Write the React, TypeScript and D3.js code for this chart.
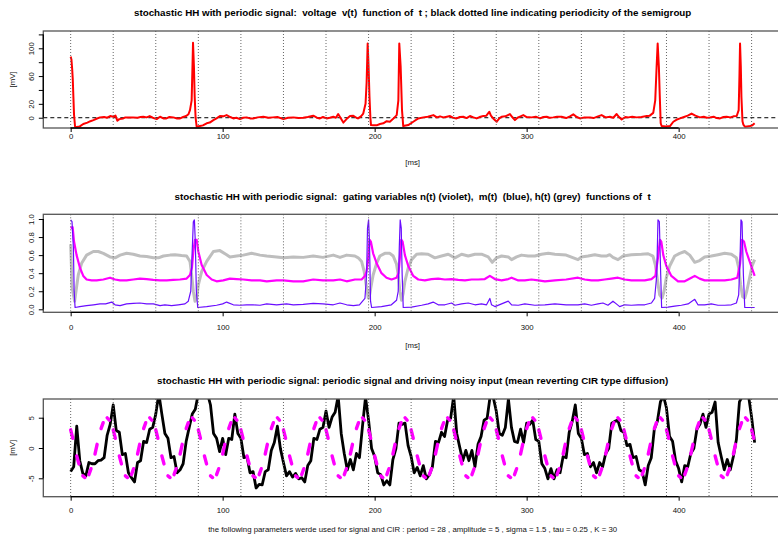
import React, { useEffect, useRef } from 'react'
import * as d3 from 'd3'

type Pt = [number, number]

const FONT = "'Liberation Sans', Arial, Helvetica, sans-serif"

// time axis [ms]
const xTicks = [0, 100, 200, 300, 400]
// periodicity of the semigroup (period = 28 ms)
const periodMarks = [0, 28, 56, 84, 112, 140, 168, 196, 224, 252, 280, 308, 336, 364, 392, 420, 448]

const titles = [
  'stochastic HH with periodic signal:  voltage  v(t)  function of  t ; black dotted line indicating periodicity of the semigroup',
  'stochastic HH with periodic signal:  gating variables n(t) (violet),  m(t)  (blue), h(t) (grey)  functions of  t',
  'stochastic HH with periodic signal: periodic signal and driving noisy input (mean reverting CIR type diffusion)',
]
const footer = 'the following parameters werde used for signal and CIR : period = 28 , amplitude = 5 , sigma = 1.5 , tau = 0.25 , K = 30'

const voltTicks = [0, 20, 40, 60, 80, 100, 120]
const voltTickLabels = ['0', '20', '', '60', '', '100', '']
const gateTicks = [0, 0.2, 0.4, 0.6, 0.8, 1.0]
const gateTickLabels = ['0.0', '0.2', '0.4', '0.6', '0.8', '1.0']
const inputTicks = [-5, 0, 5]
const inputTickLabels = ['-5', '0', '5']

// voltage v(t) [mV]
const voltage: Pt[] = [
  [0, 88], [0.5, 84], [1, 70], [1.4, 55], [1.8, 30], [2.2, 5], [2.9, -13], [4, -13.5], [6, -12.5], [8.3, -9],
  [11, -7], [13, -5], [15, -3.4], [17, -1.5], [19.3, 0.5], [22, 1], [24, 0], [26, 2.4], [28, 1.4], [29.5, 3],
  [30.7, -4.3], [32, -2], [34.6, -1], [36, 0.5], [38, 0.5], [41, 0.5], [44, 0], [46, 1], [47.8, 1.4], [50, 0.5],
  [52, 2.4], [54, 0], [56.6, -2], [58.8, 1.4], [61, -1], [63, -1], [65, 1], [67.5, 0.5], [70, -1], [72, -1],
  [74, 1], [76, 2.4], [77.5, 5], [78.5, 11], [79.6, 25], [80.1, 70], [80.5, 108], [81.1, 74], [81.6, 30], [82.2, 0],
  [82.9, -13], [85, -12], [87, -11], [89.5, -8], [91.5, -7], [93.9, -3.4], [96, -1], [98.2, 2.4], [100.5, 2], [102.6, 3.8],
  [105, 1], [107, -1], [109, 0], [111.4, -2], [113.5, 0], [115.8, 0.5], [118, -1], [120, -1], [123, 0.5], [126.8, 1.4],
  [130, 0], [133, 0.5], [136, 1], [140, -2], [143, 0], [146.5, 0.5], [150, -0.5], [153, 0], [156, 1], [159.6, 2.9],
  [162, 0], [164, -1], [166, 1], [168.4, -1], [170.5, 0], [172.8, 1.4], [174.5, 0], [176, 5.3], [177.5, 0], [179.4, -7],
  [181.5, -2], [183.8, 2.4], [186, 2.9], [188, 0], [189, -1], [191, 2], [192.5, 6], [194, 20], [194.7, 50], [195.4, 107],
  [196, 74], [196.6, 30], [197.2, 0], [197.6, -10.6], [199, -11], [201.3, -11], [203.5, -9], [205.7, -8], [207.9, -5], [210, -5.8],
  [212, -2], [214.5, 3.8], [215.6, 25], [216.2, 107], [217.1, 74], [218, 11], [218.8, -12], [222.1, -10.6], [225.4, -5.8], [228.7, -1],
  [232, 0.5], [235, 1.5], [238.6, 3.8], [241, 0.5], [243, 2], [245.2, 0.5], [247.5, 1.5], [249.6, 2.4], [251.5, 0], [253.9, -1],
  [256, 1], [258.3, 1.4], [260.5, -0.5], [262.7, 2.4], [265, 0.5], [267.1, -1], [269, 1], [271.5, 2.4], [273.5, 3], [275.4, 8.6],
  [276.5, 3], [278, -1], [280.3, -5.8], [282, -1], [283.5, 1.4], [286, 2], [289, 5.3], [290.5, 1], [292.3, -3.4], [294, 0],
  [296, 2], [297.8, 3.8], [300, 1], [303.3, 0.5], [306, 1.5], [308.8, -1], [311, 1], [313.2, 1.4], [315, 0], [317.5, 0.5],
  [320, 1.5], [323, 1.4], [326, -0.5], [328.5, 2], [330.7, 4.8], [333, 1], [335.1, -1], [338, 0.5], [341.7, 0.5], [344, -0.5],
  [346.5, 1.5], [349.3, 3.8], [352, 0.5], [354.8, 1.4], [357, 0], [359.2, 5.3], [360.8, 1], [362.5, -2.4], [365, 1], [366.9, 0.5],
  [369.5, 1.5], [372.4, 0.5], [375.5, 1], [379, 2.4], [381, 3], [383.3, 7], [384.6, 25], [385.5, 73], [386.2, 107], [387, 73],
  [387.6, 30], [388.2, -8], [388.8, -12], [391.5, -12.5], [394.3, -12], [396.5, -5.8], [398.5, -3], [400.9, -1], [403.5, 1], [406, 3],
  [408.5, 6], [411, 3], [414, 0.5], [416.5, 1.5], [418.5, 0], [420.6, 0.5], [423, 1.5], [425, -0.5], [427.2, -1], [429.5, 1],
  [431.6, 1.4], [434, 0.5], [436, 2], [438.2, 2.4], [439.5, 11], [440, 60], [440.4, 107], [440.9, 74], [441.3, 30], [442, -5],
  [442.6, -10], [443.6, -13], [445, -12.5], [446.9, -12], [448.5, -11], [450, -8],
]

// gating variable m(t) (blue)
const gateM: Pt[] = [
  [0, 0.99], [0.9, 0.97], [1.8, 0.68], [2.3, 0.2], [2.9, 0.02], [6, 0.03], [10.5, 0.04], [15, 0.05], [19.3, 0.06], [23, 0.06],
  [27, 0.08], [29.2, 0.05], [32.5, 0.04], [36.8, 0.06], [41.2, 0.065], [45.6, 0.07], [50, 0.06], [54.4, 0.06], [58.8, 0.04], [62, 0.05],
  [66.4, 0.04], [70.8, 0.05], [75.2, 0.06], [77.4, 0.09], [79, 0.2], [79.8, 0.57], [80.7, 0.97], [81.4, 0.99], [82, 0.75], [82.7, 0.2],
  [83.6, 0.02], [89.5, 0.03], [96, 0.045], [100, 0.06], [102.6, 0.08], [107, 0.05], [111.4, 0.045], [115.8, 0.05], [120, 0.05], [124.6, 0.045],
  [129, 0.06], [135.5, 0.05], [142, 0.06], [146.5, 0.05], [153, 0.055], [159.6, 0.065], [166, 0.06], [172.8, 0.05], [177.2, 0.07], [181.6, 0.05],
  [186, 0.04], [190, 0.05], [193.6, 0.12], [194.7, 0.38], [195.3, 0.9], [196, 0.99], [196.6, 0.75], [197.3, 0.09], [198, 0.02], [204.5, 0.03],
  [211, 0.05], [214.4, 0.1], [215.5, 0.2], [216.2, 0.68], [216.8, 0.99], [217.5, 0.9], [218.1, 0.38], [218.8, 0.02], [224.3, 0.025], [230.9, 0.045],
  [235.2, 0.06], [238.5, 0.08], [241.8, 0.05], [246.2, 0.05], [250.6, 0.07], [252.8, 0.045], [257.2, 0.06], [261.6, 0.07], [266, 0.05], [270.3, 0.06],
  [273.6, 0.05], [275.8, 0.12], [276.9, 0.05], [279.1, 0.03], [283.5, 0.06], [287.9, 0.09], [290.1, 0.05], [294.5, 0.045], [298.8, 0.06], [305.4, 0.045],
  [312, 0.05], [318.6, 0.06], [326, 0.05], [333.8, 0.05], [338.2, 0.06], [342.6, 0.045], [347, 0.06], [350.2, 0.07], [353.5, 0.045], [356.8, 0.09],
  [359, 0.06], [361.2, 0.03], [364.5, 0.05], [368.9, 0.045], [373.3, 0.05], [377.7, 0.05], [382.1, 0.07], [384.2, 0.12], [385.6, 0.38], [386.4, 0.99],
  [387.3, 0.97], [388.2, 0.38], [388.8, 0.02], [393, 0.025], [397.4, 0.035], [401.8, 0.045], [406.2, 0.06], [410.6, 0.11], [412.7, 0.05], [417.1, 0.05],
  [421.5, 0.06], [425.9, 0.045], [430.3, 0.045], [434.7, 0.05], [438, 0.07], [439.5, 0.16], [440.4, 0.57], [441, 0.99], [441.7, 0.97], [442.6, 0.38],
  [443.5, 0.02], [446.7, 0.02], [450, 0.02],
]

// gating variable n(t) (violet)
const gateN: Pt[] = [
  [0, 0.9], [1.3, 0.91], [2.2, 0.75], [3.9, 0.6], [6.1, 0.46], [8.3, 0.37], [10.5, 0.33], [13.8, 0.32], [17.1, 0.32], [21.5, 0.33],
  [25.9, 0.35], [29.2, 0.33], [32.5, 0.32], [36.8, 0.32], [41.2, 0.33], [45.6, 0.34], [50, 0.335], [54.4, 0.325], [58.8, 0.32], [63.2, 0.32],
  [67.5, 0.325], [71.9, 0.33], [76.3, 0.34], [78.5, 0.38], [79.8, 0.46], [80.7, 0.64], [81.8, 0.77], [82.9, 0.77], [84, 0.64], [86.2, 0.49],
  [89.5, 0.38], [92.8, 0.33], [96, 0.31], [100.4, 0.32], [104.8, 0.34], [109.2, 0.335], [113.6, 0.33], [119, 0.32], [124.6, 0.32], [129, 0.31],
  [135.5, 0.32], [140, 0.32], [146.5, 0.31], [153, 0.31], [159.6, 0.33], [166, 0.32], [172.8, 0.32], [177.2, 0.33], [181.6, 0.31], [187, 0.33],
  [191.4, 0.33], [193.6, 0.37], [194.7, 0.42], [195.8, 0.57], [196.6, 0.77], [197.5, 0.75], [199, 0.62], [201.3, 0.51], [204.5, 0.4], [207.8, 0.35],
  [211.1, 0.33], [214.4, 0.35], [215.7, 0.4], [216.6, 0.57], [217.5, 0.77], [218.4, 0.75], [219.9, 0.6], [222.1, 0.48], [225.4, 0.37], [228.7, 0.33],
  [233, 0.32], [237.4, 0.335], [241.8, 0.34], [246.2, 0.33], [250.6, 0.335], [255, 0.325], [259.4, 0.32], [263.8, 0.33], [268.1, 0.33], [272.5, 0.335],
  [275.8, 0.37], [279.1, 0.335], [283.5, 0.32], [287.9, 0.335], [290.1, 0.35], [294.5, 0.32], [298.8, 0.32], [303.2, 0.33], [307.6, 0.32], [312, 0.31],
  [318.6, 0.32], [326, 0.33], [333.8, 0.35], [338.2, 0.33], [342.6, 0.32], [347, 0.32], [351.3, 0.33], [355.7, 0.34], [360.1, 0.35], [364.5, 0.33],
  [368.9, 0.32], [373.3, 0.32], [377.7, 0.32], [382.1, 0.335], [384.7, 0.37], [386.4, 0.57], [387.7, 0.77], [388.6, 0.75], [389.9, 0.6], [391.9, 0.48],
  [395.2, 0.37], [399.6, 0.31], [404, 0.31], [408.4, 0.35], [410.6, 0.37], [413.8, 0.34], [417.1, 0.32], [421.5, 0.32], [425.9, 0.32], [430.3, 0.32],
  [434.7, 0.33], [438.6, 0.35], [440.4, 0.5], [441.7, 0.77], [443, 0.75], [444.5, 0.64], [446.7, 0.53], [450, 0.37],
]

// gating variable h(t) (grey)
const gateH: Pt[] = [
  [0, 0.72], [1, 0.24], [2.6, 0.09], [3.5, 0.2], [5, 0.38], [7.2, 0.51], [10.5, 0.6], [14.9, 0.64], [18.2, 0.64], [21.5, 0.62],
  [25.9, 0.58], [29.2, 0.57], [32.5, 0.6], [36.8, 0.62], [41.2, 0.61], [45.6, 0.59], [50, 0.585], [54.4, 0.57], [57.7, 0.57], [61, 0.59],
  [65.4, 0.6], [68.6, 0.605], [73, 0.595], [76.3, 0.59], [78.5, 0.53], [79.6, 0.38], [80.7, 0.2], [81.8, 0.09], [82.9, 0.125], [84, 0.27],
  [86.2, 0.42], [89.5, 0.53], [93.9, 0.64], [98.2, 0.65], [102.6, 0.605], [104.8, 0.58], [109.2, 0.59], [113.6, 0.6], [119, 0.62], [124.6, 0.6],
  [129, 0.59], [135.5, 0.58], [140, 0.57], [146.5, 0.58], [153, 0.575], [159.6, 0.59], [166, 0.575], [172.8, 0.6], [177.2, 0.575], [181.6, 0.6],
  [187, 0.59], [189.2, 0.57], [191.4, 0.53], [193.1, 0.42], [194.7, 0.24], [195.8, 0.125], [196.4, 0.125], [197.5, 0.24], [199, 0.38], [201.3, 0.51],
  [203.4, 0.59], [206.7, 0.62], [210, 0.62], [212.2, 0.59], [214.4, 0.5], [215.5, 0.38], [216.6, 0.2], [217.7, 0.1], [218.8, 0.18], [219.9, 0.31],
  [222.1, 0.46], [224.3, 0.55], [227.6, 0.61], [230.9, 0.615], [235.2, 0.61], [239.6, 0.57], [244, 0.59], [248.4, 0.61], [252.8, 0.57], [257.2, 0.61],
  [261.6, 0.59], [266, 0.61], [270.3, 0.61], [274.7, 0.58], [277.4, 0.52], [280.2, 0.57], [283.5, 0.59], [287.9, 0.58], [290.1, 0.55], [293.4, 0.58],
  [296.6, 0.6], [301, 0.59], [305.4, 0.59], [309.8, 0.61], [314.2, 0.62], [318.6, 0.61], [326, 0.6], [333.8, 0.55], [336, 0.58], [340.4, 0.59],
  [344.8, 0.605], [349.2, 0.59], [352.4, 0.59], [354.6, 0.605], [356.8, 0.575], [360.1, 0.55], [363.4, 0.59], [368.9, 0.605], [375.5, 0.61], [379.9, 0.615],
  [383.1, 0.59], [384.7, 0.49], [386, 0.33], [387.5, 0.16], [389.1, 0.125], [390.4, 0.2], [391.9, 0.35], [394.1, 0.48], [397.4, 0.59], [400.7, 0.62],
  [404, 0.64], [407.3, 0.6], [410.6, 0.52], [413.8, 0.54], [417.1, 0.58], [421.5, 0.59], [425.9, 0.605], [430.3, 0.62], [434.7, 0.61], [438, 0.57],
  [439.5, 0.46], [440.8, 0.27], [442.1, 0.14], [443.5, 0.125], [444.8, 0.2], [446.7, 0.35], [448.3, 0.48], [450, 0.55],
]

// sampled every 2 ms from t = 0 to 450
const SAMPLE_MS = 2
// periodic signal [mV]
const signal = [
  3.0, 1.0, -1.3, -3.2, -4.6, -5.0, -4.4, -3.0, -1.0, 1.3, 3.2, 4.6, 5.0, 4.4,
  3.0, 1.0, -1.3, -3.2, -4.6, -5.0, -4.4, -3.0, -1.0, 1.3, 3.2, 4.6, 5.0, 4.4,
  3.0, 1.0, -1.3, -3.2, -4.6, -5.0, -4.4, -3.0, -1.0, 1.3, 3.2, 4.6, 5.0, 4.4,
  3.0, 1.0, -1.3, -3.2, -4.6, -5.0, -4.4, -3.0, -1.0, 1.3, 3.2, 4.6, 5.0, 4.4,
  3.0, 1.0, -1.3, -3.2, -4.6, -5.0, -4.4, -3.0, -1.0, 1.3, 3.2, 4.6, 5.0, 4.4,
  3.0, 1.0, -1.3, -3.2, -4.6, -5.0, -4.4, -3.0, -1.0, 1.3, 3.2, 4.6, 5.0, 4.4,
  3.0, 1.0, -1.3, -3.2, -4.6, -5.0, -4.4, -3.0, -1.0, 1.3, 3.2, 4.6, 5.0, 4.4,
  3.0, 1.0, -1.3, -3.2, -4.6, -5.0, -4.4, -3.0, -1.0, 1.3, 3.2, 4.6, 5.0, 4.4,
  3.0, 1.0, -1.3, -3.2, -4.6, -5.0, -4.4, -3.0, -1.0, 1.3, 3.2, 4.6, 5.0, 4.4,
  3.0, 1.0, -1.3, -3.2, -4.6, -5.0, -4.4, -3.0, -1.0, 1.3, 3.2, 4.6, 5.0, 4.4,
  3.0, 1.0, -1.3, -3.2, -4.6, -5.0, -4.4, -3.0, -1.0, 1.3, 3.2, 4.6, 5.0, 4.4,
  3.0, 1.0, -1.3, -3.2, -4.6, -5.0, -4.4, -3.0, -1.0, 1.3, 3.2, 4.6, 5.0, 4.4,
  3.0, 1.0, -1.3, -3.2, -4.6, -5.0, -4.4, -3.0, -1.0, 1.3, 3.2, 4.6, 5.0, 4.4,
  3.0, 1.0, -1.3, -3.2, -4.6, -5.0, -4.4, -3.0, -1.0, 1.3, 3.2, 4.6, 5.0, 4.4,
  3.0, 1.0, -1.3, -3.2, -4.6, -5.0, -4.4, -3.0, -1.0, 1.3, 3.2, 4.6, 5.0, 4.4,
  3.0, 1.0, -1.3, -3.2, -4.6, -5.0, -4.4, -3.0, -1.0, 1.3, 3.2, 4.6, 5.0, 4.4,
  3.0, 1.0,
]
// noisy CIR driving input [mV]
const cirInput = [
  -3.9, -3.1, 3.6, -2.1, -4.2, -4.6, -2.4, -2.6, -2.6, -2.1,
  -2.0, -1.6, 2.1, 3.9, 7.1, 2.9, 2.6, -1.1, -0.9, -4.1,
  -4.9, -5.6, -2.4, -2.1, 1.1, 0.9, 3.1, 3.4, 5.6, 9.0,
  5.6, 2.4, 1.6, -1.6, -1.4, -4.1, -3.6, -2.6, 1.1, 3.4,
  5.6, 6.4, 9.0, 10, 10, 9, 7.1, 2.4, 1.6, -0.6,
  1.6, -1.1, 1.6, 1.4, 5.6, 2.4, 1.6, -1.6, -1.4, -4.1,
  -3.9, -6.6, -6.0, -6.1, -3.9, -3.6, -0.4, 0.9, 3.6, -0.1,
  -2.4, -4.6, -3.9, -4.8, -4.2, -5.1, -4.9, -5.6, -2.9, -2.1,
  1.6, 1.4, 3.1, 3.4, 6.1, 3.4, 5.1, 5.9, 8.6, 2.4,
  -0.9, -3.6, -1.9, -3.6, -0.9, -1.6, 3.6, 8.4, 4.6, -0.1,
  -1.4, -4.1, -4.4, -6.1, -5.4, -6.1, -1.9, -0.1, 4.1, 3.9,
  4.1, 0.4, -1.4, -4.1, -3.2, -4.6, -2.9, -5.1, -4.4, -3.1,
  1.1, 0.9, 2.6, 1.9, 4.6, 4.9, 8.6, 2.4, 0.1, -2.1,
  -0.4, -2.1, -0.4, -3.1, 0.6, 1.9, 4.6, 4.9, 8.6, 8.4,
  6.1, 2.4, 2.1, 3.4, 8.1, 3.4, 1.1, 0.9, 3.1, 0.9,
  4.1, 3.9, 4.6, 1.4, 1.1, -2.6, -3.4, -5.1, -3.4, -5.1,
  -3.6, -4.1, -1.4, -1.6, 2.6, 4.4, 7.1, 2.4, 1.6, -1.1,
  -0.9, -3.1, -2.4, -4.1, -2.4, -3.1, -0.9, -0.1, 4.1, 4.4,
  4.6, 2.9, 2.6, 0.4, 0.6, -1.6, -1.4, -3.6, -3.9, -6.1,
  -2.9, -1.6, 3.1, 4.4, 7.6, 8.6, 6.6, 1.9, 1.1, -2.1,
  -3.4, -5.6, -2.9, -3.1, -0.9, -0.1, 3.1, 3.9, 5.6, 3.4,
  5.6, 5.9, 7.6, 0.9, -1.4, -3.6, -1.9, -3.6, -1.4, 1.4,
  7.6, 8.6, 8.6, 8.6, 5.1, 0.9,
]

const PLOT_LEFT = 43.3
const PLOT_RIGHT = 782
const AXIS_FONT = 7.8
const TITLE_FONT = 9.8

interface PanelCfg {
  id: string
  top: number
  bottom: number
  yDomain: [number, number]
  yTicks: number[]
  yTickLabels: string[]
  title: string
  titleY: number
  tickLabelY: number
  xLabel: string
  xLabelY: number
  yLabel: string
}

const panels: PanelCfg[] = [
  { id: 'clip-v', top: 31, bottom: 128, yDomain: [-14.8, 124.9], yTicks: voltTicks, yTickLabels: voltTickLabels,
    title: titles[0], titleY: 15.5, tickLabelY: 138.5, xLabel: '[ms]', xLabelY: 165, yLabel: '[mV]' },
  { id: 'clip-g', top: 214.3, bottom: 312.3, yDomain: [-0.0332, 1.052], yTicks: gateTicks, yTickLabels: gateTickLabels,
    title: titles[1], titleY: 200, tickLabelY: 330.5, xLabel: '[ms]', xLabelY: 348, yLabel: '' },
  { id: 'clip-i', top: 399, bottom: 496.7, yDomain: [-8.04, 8.09], yTicks: inputTicks, yTickLabels: inputTickLabels,
    title: titles[2], titleY: 384, tickLabelY: 513.3, xLabel: footer, xLabelY: 532, yLabel: '[mV]' },
]

function drawFrame(svg: any, cfg: PanelCfg) {
  const y = d3.scaleLinear().domain(cfg.yDomain).range([cfg.bottom, cfg.top])
  svg.append('clipPath').attr('id', cfg.id).append('rect')
    .attr('x', PLOT_LEFT).attr('y', cfg.top)
    .attr('width', PLOT_RIGHT - PLOT_LEFT).attr('height', cfg.bottom - cfg.top)
  const plot = svg.append('g').attr('clip-path', `url(#${cfg.id})`)
  return { y, plot }
}

function drawAxes(svg: any, x: any, y: any, cfg: PanelCfg) {
  const midX = (PLOT_LEFT + PLOT_RIGHT) / 2
  // box
  svg.append('rect')
    .attr('x', PLOT_LEFT).attr('y', cfg.top)
    .attr('width', PLOT_RIGHT - PLOT_LEFT).attr('height', cfg.bottom - cfg.top)
    .attr('fill', 'none').attr('stroke', '#555').attr('stroke-width', 1.3)

  // x axis
  const xa = svg.append('g').attr('transform', `translate(0,${cfg.bottom})`)
    .call(d3.axisBottom(x).tickValues(xTicks).tickSize(4).tickFormat(d3.format('d')))
  xa.select('.domain').remove()
  xa.attr('font-family', FONT).attr('font-size', AXIS_FONT)
  xa.selectAll('text').attr('y', cfg.tickLabelY - cfg.bottom).attr('dy', null).attr('fill', '#111')
  xa.append('line').attr('x1', x(xTicks[0])).attr('x2', x(xTicks[xTicks.length - 1]))
    .attr('stroke', '#000').attr('stroke-width', 1.3)

  // y axis
  const ya = svg.append('g').attr('transform', `translate(${PLOT_LEFT},0)`)
    .call(d3.axisLeft(y).tickValues(cfg.yTicks).tickSize(4.5)
      .tickFormat((_d: any, i: number) => cfg.yTickLabels[i]))
  ya.select('.domain').remove()
  ya.attr('font-family', FONT).attr('font-size', AXIS_FONT)
  ya.selectAll('text')
    .attr('transform', 'rotate(-90)')
    .attr('x', 0).attr('y', -9.8).attr('dy', null)
    .attr('text-anchor', 'middle').attr('fill', '#111')
  ya.append('line')
    .attr('y1', y(cfg.yTicks[0])).attr('y2', y(cfg.yTicks[cfg.yTicks.length - 1]))
    .attr('stroke', '#000').attr('stroke-width', 1.3)

  // title
  svg.append('text').text(cfg.title)
    .attr('x', midX).attr('y', cfg.titleY).attr('text-anchor', 'middle')
    .style('white-space', 'pre')
    .attr('font-family', FONT).attr('font-weight', 'bold').attr('font-size', TITLE_FONT).attr('fill', '#000')
  // x label
  svg.append('text').text(cfg.xLabel)
    .attr('x', midX).attr('y', cfg.xLabelY).attr('text-anchor', 'middle')
    .style('white-space', 'pre')
    .attr('font-family', FONT).attr('font-size', AXIS_FONT).attr('fill', '#111')
  // y label
  if (cfg.yLabel) {
    svg.append('text').text(cfg.yLabel)
      .attr('transform', `translate(15,${(cfg.top + cfg.bottom) / 2}) rotate(-90)`)
      .attr('text-anchor', 'middle')
      .attr('font-family', FONT).attr('font-size', AXIS_FONT).attr('fill', '#111')
  }
}

function periodLines(plot: any, x: any, cfg: PanelCfg) {
  plot.selectAll('line.period').data(periodMarks).join('line')
    .attr('class', 'period')
    .attr('x1', (d: number) => x(d)).attr('x2', (d: number) => x(d))
    .attr('y1', cfg.top).attr('y2', cfg.bottom)
    .attr('stroke', '#666').attr('stroke-width', 1).attr('stroke-dasharray', '1 2')
}

export default function App() {
  const ref = useRef<SVGSVGElement>(null)

  useEffect(() => {
    const svg = d3.select(ref.current)
    svg.selectAll('*').remove()
    const x = d3.scaleLinear().domain([-18, 468]).range([PLOT_LEFT, PLOT_RIGHT])
    const ptLine = (y: any) => d3.line<Pt>().x(d => x(d[0])).y(d => y(d[1]))

    // panel 1: voltage
    const p1 = drawFrame(svg, panels[0])
    p1.plot.append('line')
      .attr('x1', PLOT_LEFT).attr('x2', PLOT_RIGHT)
      .attr('y1', p1.y(0)).attr('y2', p1.y(0))
      .attr('stroke', '#000').attr('stroke-width', 1).attr('stroke-dasharray', '4 3')
    p1.plot.append('path').attr('d', ptLine(p1.y)(voltage))
      .attr('fill', 'none').attr('stroke', '#ff0000').attr('stroke-width', 2)
      .attr('stroke-linejoin', 'round')
    periodLines(p1.plot, x, panels[0])
    drawAxes(svg, x, p1.y, panels[0])

    // panel 2: gating variables
    const p2 = drawFrame(svg, panels[1])
    p2.plot.append('path').attr('d', ptLine(p2.y)(gateH))
      .attr('fill', 'none').attr('stroke', '#bebebe').attr('stroke-width', 3)
      .attr('stroke-linejoin', 'round')
    p2.plot.append('path').attr('d', ptLine(p2.y)(gateN))
      .attr('fill', 'none').attr('stroke', '#ff00ff').attr('stroke-width', 2.2)
      .attr('stroke-linejoin', 'round')
    p2.plot.append('path').attr('d', ptLine(p2.y)(gateM))
      .attr('fill', 'none').attr('stroke', '#6a0dff').attr('stroke-width', 1.2)
      .attr('stroke-linejoin', 'round')
    periodLines(p2.plot, x, panels[1])
    drawAxes(svg, x, p2.y, panels[1])

    // panel 3: signal and CIR input
    const p3 = drawFrame(svg, panels[2])
    p3.plot.append('path')
      .attr('d', d3.line<number>().x((_d, i) => x(i * SAMPLE_MS)).y(d => p3.y(d))(cirInput))
      .attr('fill', 'none').attr('stroke', '#000').attr('stroke-width', 2.8)
      .attr('stroke-linejoin', 'round')
    // dashed signal: a dash on every other sample interval, covering 70% of it
    const DASH = 0.7
    const dashIdx = d3.range(0, signal.length - 1, 2)
    const sx = (i: number) => x(i * SAMPLE_MS)
    const sy = (i: number) => p3.y(signal[i])
    p3.plot.selectAll('line.sig').data(dashIdx).join('line')
      .attr('class', 'sig')
      .attr('x1', (i: number) => sx(i)).attr('y1', (i: number) => sy(i))
      .attr('x2', (i: number) => sx(i) + DASH * (sx(i + 1) - sx(i)))
      .attr('y2', (i: number) => sy(i) + DASH * (sy(i + 1) - sy(i)))
      .attr('stroke', '#ff00ff').attr('stroke-width', 3.4).attr('stroke-linecap', 'round')
    periodLines(p3.plot, x, panels[2])
    drawAxes(svg, x, p3.y, panels[2])
  }, [])

  return (
    <svg ref={ref} width={778} height={534}
      style={{ position: 'absolute', left: 0, top: 0, background: '#fff' }} />
  )
}
